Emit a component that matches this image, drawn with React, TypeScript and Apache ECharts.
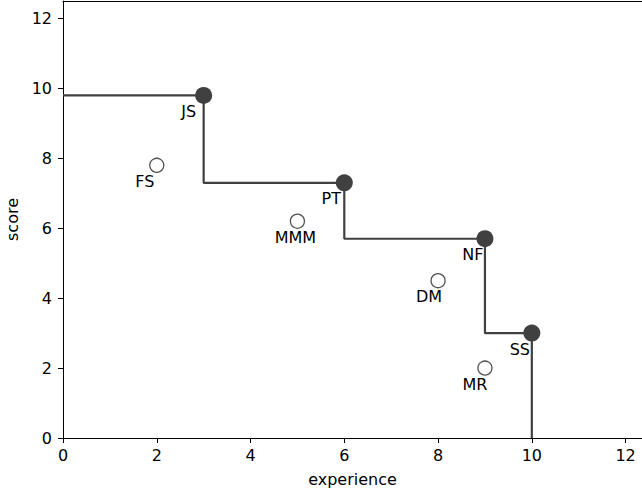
import React, { useEffect, useRef } from "react";
import * as echarts from "echarts";

// Frontier (filled) points
const frontierNames = ["JS", "PT", "NF", "SS"];
const frontierX = [3, 6, 9, 10];
const frontierY = [9.8, 7.3, 5.7, 3.0];

// Other (hollow) points
const otherNames = ["FS", "MMM", "DM", "MR"];
const otherX = [2, 5, 8, 9];
const otherY = [7.8, 6.2, 4.5, 2.0];

const xTicks = [0, 2, 4, 6, 8, 10, 12];
const yTicks = [0, 2, 4, 6, 8, 10, 12];

// label offsets (styling)
const labelOffset: Record<string, [number, number]> = {
  JS: [-15, 16],
  PT: [-13, 16],
  NF: [-12, 16],
  SS: [-12, 16],
  FS: [-12, 16],
  MMM: [-2, 16],
  DM: [-9, 16],
  MR: [-10, 16],
};

const FONT = "DejaVu Sans";
const FS = 16;
const DARK = "#404040";
const X_MAX = 12.35;

export default function App() {
  const ref = useRef<HTMLDivElement>(null);
  useEffect(() => {
    if (!ref.current) return;
    const chart = echarts.init(ref.current, undefined, { renderer: "svg" });

    const stepData: [number, number][] = [];
    const xs = [0, ...frontierX];
    const ys = [...frontierY, 0];
    for (let i = 0; i < xs.length; i++) stepData.push([xs[i], ys[i]]);

    const mkLabel = (name: string) => ({
      show: true,
      position: "inside" as const,
      offset: labelOffset[name],
      formatter: name,
      color: "#000",
      fontFamily: FONT,
      fontSize: FS,
      align: "center" as const,
      verticalAlign: "middle" as const,
    });

    const axisLine = { show: true, onZero: false, lineStyle: { color: "#000", width: 1 } };
    const tickStyle = { color: "#000", width: 1 };
    const nameStyle = { color: "#000", fontFamily: FONT, fontSize: FS };
    const labelStyle = { color: "#000", fontFamily: FONT, fontSize: FS };

    chart.setOption({
      animation: false,
      grid: {
        left: 63,
        top: 1,
        width: 579,
        height: 437,
        show: false,
        containLabel: false,
        outerBoundsMode: "none",
      },
      xAxis: [
        {
          type: "value",
          min: 0,
          max: X_MAX,
          position: "bottom",
          splitLine: { show: false },
          axisLine,
          axisTick: { show: true, length: 5, lineStyle: tickStyle, customValues: xTicks },
          axisLabel: { ...labelStyle, customValues: xTicks, margin: 9 },
          name: "experience",
          nameLocation: "middle",
          nameGap: 33,
          nameTextStyle: nameStyle,
        },
        {
          type: "value",
          min: 0,
          max: X_MAX,
          position: "top",
          splitLine: { show: false },
          axisLine,
          axisTick: { show: false },
          axisLabel: { show: false },
        },
      ],
      yAxis: {
        type: "value",
        min: 0,
        max: 12.5,
        splitLine: { show: false },
        axisLine,
        axisTick: { show: true, length: 5, lineStyle: tickStyle, customValues: yTicks },
        axisLabel: { ...labelStyle, customValues: yTicks, margin: 11 },
        name: "score",
        nameLocation: "middle",
        nameGap: 39,
        nameTextStyle: nameStyle,
      },
      series: [
        {
          type: "line",
          data: stepData,
          step: "end",
          symbol: "none",
          lineStyle: { color: DARK, width: 2.2 },
          z: 1,
        },
        {
          type: "scatter",
          symbolSize: 17,
          itemStyle: { color: DARK, opacity: 1 },
          data: frontierNames.map((n, i) => ({
            value: [frontierX[i], frontierY[i]],
            label: mkLabel(n),
          })),
          z: 3,
        },
        {
          type: "scatter",
          symbolSize: 14,
          itemStyle: { color: "#fff", borderColor: "#505050", borderWidth: 1.3, opacity: 1 },
          data: otherNames.map((n, i) => ({
            value: [otherX[i], otherY[i]],
            label: mkLabel(n),
          })),
          z: 3,
        },
      ],
    });
    return () => chart.dispose();
  }, []);
  return (
    <div
      ref={ref}
      style={{ position: "absolute", left: 0, top: 0, width: 642, height: 492 }}
    />
  );
}
